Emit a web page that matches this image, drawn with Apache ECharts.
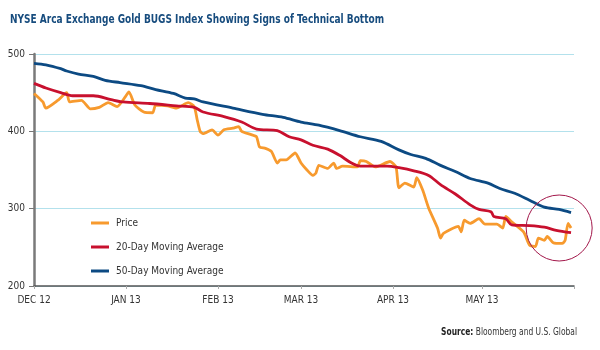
<!DOCTYPE html>
<html lang="en">
<head>
  <meta charset="utf-8">
  <title>NYSE Arca Gold BUGS Index</title>
  <script type="text/javascript" src="https://cdn.jsdelivr.net/npm/echarts@6/dist/echarts.min.js"></script>
  <style type="text/css">
    * { margin: 0; padding: 0; }
    html, body, #main { width: 600px; height: 350px; overflow: hidden; background: #fff; }
  </style>
</head>
<body>
  <div id="main"></div>
  <script type="text/javascript">
    // price
    var priceDates = ['2012-12-01', '2012-12-04', '2012-12-05', '2012-12-09', '2012-12-12', '2012-12-13', '2012-12-17',
      '2012-12-20', '2012-12-23', '2012-12-26', '2012-12-29', '2013-01-01', '2013-01-02', '2013-01-04', '2013-01-07',
      '2013-01-10', '2013-01-11', '2013-01-15', '2013-01-18', '2013-01-22', '2013-01-24', '2013-01-25', '2013-01-26',
      '2013-01-27', '2013-01-30', '2013-02-01', '2013-02-03', '2013-02-06', '2013-02-08', '2013-02-09', '2013-02-12',
      '2013-02-14', '2013-02-15', '2013-02-17', '2013-02-19', '2013-02-21', '2013-02-22', '2013-02-24', '2013-02-27',
      '2013-03-01', '2013-03-03', '2013-03-05', '2013-03-06', '2013-03-07', '2013-03-10', '2013-03-12', '2013-03-13',
      '2013-03-15', '2013-03-20', '2013-03-21', '2013-03-23', '2013-03-26', '2013-03-31', '2013-04-02', '2013-04-03',
      '2013-04-05', '2013-04-08', '2013-04-09', '2013-04-11', '2013-04-13', '2013-04-16', '2013-04-17', '2013-04-18',
      '2013-04-23', '2013-04-24', '2013-04-25', '2013-04-27', '2013-04-30', '2013-05-02', '2013-05-06', '2013-05-08',
      '2013-05-09', '2013-05-11', '2013-05-15', '2013-05-17', '2013-05-19', '2013-05-20', '2013-05-22', '2013-05-23',
      '2013-05-25', '2013-05-28', '2013-05-29', '2013-05-30', '2013-05-31'];
    var priceValues = [449, 438, 430, 440, 450, 438, 440,
      429, 431, 437, 432, 446, 451, 434, 425,
      424, 434, 433, 430, 437, 432, 415, 400,
      397, 402, 395, 402, 404, 406, 400, 396,
      393, 380, 378, 374, 359, 363, 363, 372,
      359, 350, 343, 346, 356, 352, 359, 352,
      355, 354, 362, 361, 354, 361, 354, 327,
      333, 328, 340, 324, 301, 275, 262, 268,
      277, 270, 285, 281, 287, 280, 280, 275,
      290, 283, 270, 253, 251, 262, 259, 264,
      256, 255, 259, 281, 275];

    // 20-day moving average
    var ma20Dates = ['2012-12-01', '2012-12-05', '2012-12-10', '2012-12-14', '2012-12-21', '2012-12-27', '2012-12-31',
      '2013-01-09', '2013-01-18', '2013-01-24', '2013-01-27', '2013-02-03', '2013-02-09', '2013-02-14', '2013-02-21',
      '2013-02-25', '2013-03-01', '2013-03-05', '2013-03-10', '2013-03-14', '2013-03-18', '2013-03-21', '2013-03-30',
      '2013-04-03', '2013-04-08', '2013-04-13', '2013-04-17', '2013-04-22', '2013-04-27', '2013-04-30', '2013-05-04',
      '2013-05-05', '2013-05-09', '2013-05-11', '2013-05-17', '2013-05-22', '2013-05-26', '2013-05-31'];
    var ma20Values = [462, 456, 450, 446, 446, 441, 438,
      436, 433, 431, 425, 419, 412, 403, 401,
      393, 389, 382, 377, 369, 359, 355, 355,
      353, 349, 343, 331, 319, 305, 299, 296,
      290, 287, 279, 278, 276, 272, 269];

    // 50-day moving average
    var ma50Dates = ['2012-12-01', '2012-12-05', '2012-12-10', '2012-12-12', '2012-12-16', '2012-12-21', '2012-12-25',
      '2012-12-30', '2013-01-06', '2013-01-11', '2013-01-17', '2013-01-21', '2013-01-24', '2013-01-27', '2013-02-06',
      '2013-02-16', '2013-02-23', '2013-03-01', '2013-03-07', '2013-03-14', '2013-03-21', '2013-03-28', '2013-04-03',
      '2013-04-07', '2013-04-12', '2013-04-17', '2013-04-22', '2013-04-27', '2013-05-03', '2013-05-07', '2013-05-12',
      '2013-05-17', '2013-05-22', '2013-05-27', '2013-05-31'];
    var ma50Values = [488, 486, 481, 478, 474, 471, 466,
      463, 459, 454, 449, 443, 442, 438, 430,
      422, 418, 412, 408, 401, 393, 387, 376,
      370, 365, 356, 348, 339, 333, 326, 320,
      311, 302, 299, 295];

    var monthNames = ['JAN', 'FEB', 'MAR', 'APR', 'MAY', 'JUN', 'JUL', 'AUG', 'SEP', 'OCT', 'NOV', 'DEC'];
    var yTicks = [200, 300, 400, 500];
    var circleAt = ['2013-05-27', 275];

    function pairs(dates, values) {
      return dates.map(function (d, i) { return [d, values[i]]; });
    }

    // no narrow Helvetica here, so DejaVu condensed (squeezed a bit more for the title and source)
    var cond = '"DejaVu Sans Condensed", "DejaVu Sans", sans-serif';

    var option = {
      backgroundColor: '#fff',
      animation: false,
      graphic: [{
        type: 'text',
        x: 10,
        y: 13,
        scaleX: 0.77,
        style: {
          text: 'NYSE Arca Exchange Gold BUGS Index Showing Signs of Technical Bottom',
          fontFamily: cond,
          fontSize: 13,
          fontWeight: 'bold',
          fill: '#174C7E',
          verticalAlign: 'top'
        }
      }, {
        type: 'text',
        x: 577,
        y: 332,
        scaleX: 0.76,
        style: {
          text: '{b|Source:} Bloomberg and U.S. Global',
          fontFamily: cond,
          fontSize: 11,
          fill: '#333',
          align: 'right',
          verticalAlign: 'middle',
          rich: { b: { fontFamily: cond, fontSize: 11, fontWeight: 'bold', fill: '#222' } }
        }
      }],
      legend: {
        orient: 'vertical',
        left: 86,
        top: 213,
        itemWidth: 18,
        itemHeight: 3,
        itemGap: 14,
        icon: 'rect',
        textStyle: { fontFamily: cond, fontSize: 10, color: '#333', padding: [0, 0, 0, 2] },
        data: ['Price', '20-Day Moving Average', '50-Day Moving Average']
      },
      grid: { left: 34, right: 26, top: 54, bottom: 64 },
      xAxis: {
        type: 'time',
        min: '2012-12-01',
        max: '2013-06-01',
        splitNumber: 6,
        axisLine: { lineStyle: { color: '#555', width: 1.5 } },
        axisTick: { show: true, length: 3, lineStyle: { color: '#aaa' } },
        splitLine: { show: false },
        axisLabel: {
          color: '#333',
          fontSize: 10,
          margin: 9,
          fontFamily: cond,
          hideOverlap: false,
          formatter: function (value) {
            var d = new Date(value);
            if (d.getDate() !== 1) return '';
            if (d.getMonth() === 5) return '';
            return monthNames[d.getMonth()] + ' ' + String(d.getFullYear()).slice(2);
          }
        }
      },
      yAxis: {
        type: 'value',
        min: yTicks[0],
        max: yTicks[yTicks.length - 1],
        interval: 100,
        axisLine: { show: true, lineStyle: { color: '#7a7a7a', width: 2.5 } },
        axisTick: { show: true, length: 5, lineStyle: { color: '#777' } },
        axisLabel: { color: '#333', fontSize: 10, margin: 9, fontFamily: cond },
        splitLine: { show: true, lineStyle: { color: '#B3E1EC', width: 1 } }
      },
      series: [{
        name: 'Price',
        type: 'line',
        data: pairs(priceDates, priceValues),
        showSymbol: false,
        smooth: 0.2,
        color: '#F79A2E',
        lineStyle: { width: 2.8, color: '#F79A2E' },
        markPoint: {
          silent: true,
          symbol: 'circle',
          symbolSize: 66,
          label: { show: false },
          itemStyle: { color: 'rgba(0,0,0,0)', borderColor: '#A3184B', borderWidth: 1 },
          data: [{ coord: circleAt }]
        }
      }, {
        name: '20-Day Moving Average',
        type: 'line',
        data: pairs(ma20Dates, ma20Values),
        showSymbol: false,
        smooth: 0.3,
        color: '#C8102E',
        lineStyle: { width: 2.8, color: '#C8102E' }
      }, {
        name: '50-Day Moving Average',
        type: 'line',
        data: pairs(ma50Dates, ma50Values),
        showSymbol: false,
        smooth: 0.3,
        color: '#0C4A83',
        lineStyle: { width: 2.8, color: '#0C4A83' }
      }]
    };

    var chart = echarts.init(document.getElementById('main'), null, { renderer: 'canvas' });
    chart.setOption(option);
  </script>
</body>
</html>
